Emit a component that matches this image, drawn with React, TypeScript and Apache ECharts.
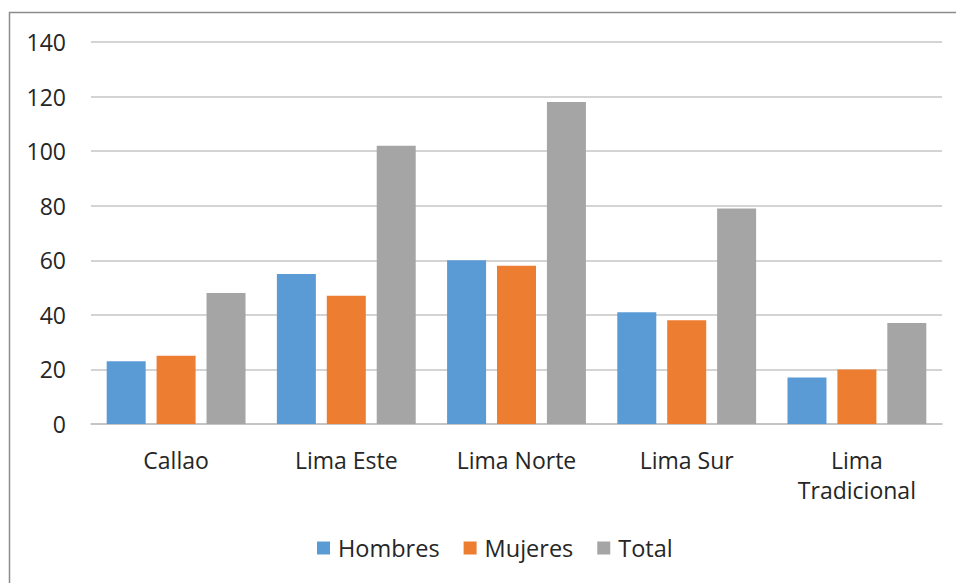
import React, { useEffect, useRef } from "react";
import * as echarts from "echarts";

const categories = ["Callao", "Lima Este", "Lima Norte", "Lima Sur", "Lima\nTradicional"];
const hombres = [23, 55, 60, 41, 17];
const mujeres = [25, 47, 58, 38, 20];
const total = [48, 102, 118, 79, 37];
const seriesNames = ["Hombres", "Mujeres", "Total"];
const seriesColors = ["#5B9BD5", "#ED7D31", "#A5A5A5"];

const FONT = "'Open Sans', 'Noto Sans', sans-serif";
const TEXT = "#262626";

export default function App() {
  const ref = useRef<HTMLDivElement>(null);

  useEffect(() => {
    if (!ref.current) return;
    const chart = echarts.init(ref.current, undefined, { renderer: "svg" });
    const values = [hombres, mujeres, total];
    chart.setOption({
      animation: false,
      backgroundColor: "#ffffff",
      textStyle: { fontFamily: FONT },
      graphic: [
        {
          type: "rect",
          shape: { x: 9.5, y: 12.5, width: 960, height: 600 },
          style: { fill: "none", stroke: "#8c8c8c", lineWidth: 1.5 },
          silent: true,
          z: -1,
        },
      ],
      grid: { left: 91, right: 14, top: 42, bottom: 159, containLabel: false },
      legend: {
        data: seriesNames,
        bottom: 18,
        left: 312,
        itemWidth: 13,
        itemHeight: 13,
        itemGap: 24,
        icon: "rect",
        textStyle: { fontFamily: FONT, fontSize: 23.5, color: TEXT, padding: [0, 0, 0, 3] },
      },
      xAxis: {
        type: "category",
        data: categories,
        axisTick: { show: false },
        axisLine: { lineStyle: { color: "#bfbfbf", width: 1.5 } },
        axisLabel: {
          fontFamily: FONT,
          fontSize: 23,
          color: TEXT,
          margin: 21,
          lineHeight: 30,
          interval: 0,
        },
      },
      yAxis: {
        type: "value",
        min: 0,
        max: 140,
        interval: 20,
        axisLine: { show: false },
        axisTick: { show: false },
        splitLine: { lineStyle: { color: "#c6c6c6", width: 1.5 } },
        axisLabel: { fontFamily: FONT, fontSize: 23, color: TEXT, margin: 25 },
      },
      series: seriesNames.map((name, i) => ({
        name,
        type: "bar",
        data: values[i],
        barWidth: 39,
        barGap: "28%",
        itemStyle: { color: seriesColors[i] },
      })),
    });
    return () => chart.dispose();
  }, []);

  return (
    <div
      ref={ref}
      style={{ position: "fixed", left: 0, top: 0, width: 956, height: 583 }}
    />
  );
}
